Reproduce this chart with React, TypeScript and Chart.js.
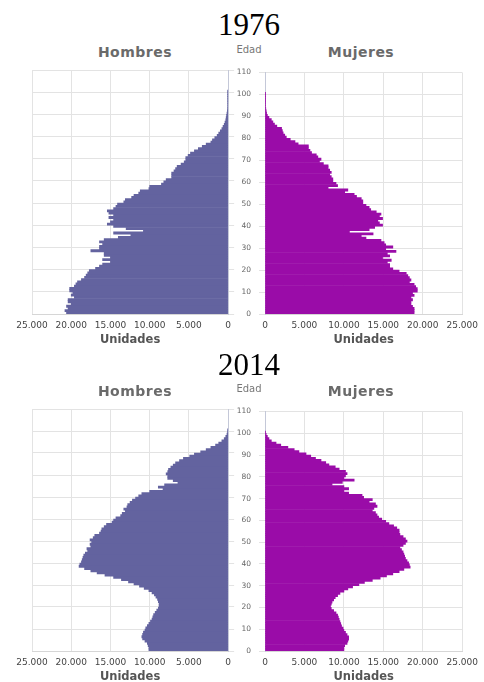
import React, { useEffect, useRef } from 'react';
import { Chart, registerables } from 'chart.js';

Chart.register(...registerables);

// Ages 0..100 (one bar per single year of age)
const AGES: number[] = Array.from({ length: 101 }, (_, i) => i);
const AGE_TICK_STEP = 10;
const AGE_MAX = 110;
const UNITS_MAX = 25000;
const UNITS_STEP = 5000;

const YEAR_A = '1976';
const YEAR_B = '2014';

// Population by single year of age (Unidades), ages 0..100
const HOMBRES_1976: number[] = [
  20600, 20800, 20400, 20600, 20000, 20400, 20400, 19600, 20000, 19800,
  20200, 20200, 19600, 19400, 19200, 18700, 18300, 18100, 17900, 17700,
  16900, 16400, 16000, 15000, 16000, 15000, 15800, 15800, 17500, 16400,
  16400, 16000, 16400, 15800, 14000, 12400, 14600, 10800, 13000, 14600,
  15400, 15000, 14600, 15200, 14600, 15200, 15400, 14600, 14300, 14100,
  13300, 13100, 12300, 12000, 11400, 11200, 10100, 10000, 8500, 8200,
  7900, 7200, 7200, 7200, 6900, 6700, 6500, 6000, 5600, 5400,
  5400, 5100, 4800, 4300, 3800, 3300, 2800, 2200, 2000, 1700,
  1400, 1200, 1000, 800, 650, 500, 400, 300, 250, 200,
  150, 100, 80, 50, 30, 20, 15, 10, 5, 3, 2,
];

const MUJERES_1976: number[] = [
  18900, 18900, 18900, 18700, 18500, 18500, 18700, 18500, 18900, 18700,
  19300, 19300, 19100, 18900, 18300, 18500, 18300, 18100, 17900, 17000,
  16200, 15800, 15800, 15500, 16000, 14900, 15800, 15500, 16600, 15300,
  16200, 15300, 15100, 14700, 12800, 12200, 13700, 10700, 13200, 13900,
  14900, 14500, 14300, 14900, 14500, 14700, 14100, 13400, 13200, 12800,
  12400, 12400, 12200, 11600, 11300, 10100, 10500, 8000, 9200, 9000,
  8600, 8600, 8400, 8200, 8400, 8200, 8000, 8000, 7400, 6900,
  7100, 6700, 6500, 5900, 5700, 5500, 5500, 4200, 3800, 3200,
  2700, 2500, 2300, 2200, 2100, 1500, 1200, 1000, 800, 500,
  300, 200, 150, 100, 70, 50, 30, 20, 10, 5, 3,
];

const HOMBRES_2014: number[] = [
  10100, 10100, 10200, 10300, 10600, 10900, 11000, 10900, 10800, 10600,
  10500, 10300, 10100, 9900, 9700, 9600, 9500, 9300, 9100, 8900,
  8800, 8800, 8900, 9000, 9200, 9400, 9700, 10100, 10700, 11300,
  12000, 12700, 13600, 14600, 15700, 16700, 17500, 18300, 19000, 18900,
  18700, 18600, 18500, 18400, 18200, 17900, 18000, 17500, 17600, 17400,
  17600, 17200, 17000, 16400, 16200, 16100, 15800, 15500, 14800, 14600,
  14300, 13700, 13500, 13100, 13300, 12900, 12800, 12500, 12200, 11800,
  11400, 11000, 10000, 8300, 8900, 8100, 6400, 7000, 7700, 7700,
  7900, 7700, 7600, 7300, 7000, 6700, 6200, 5700, 4900, 4300,
  3500, 2800, 2200, 1600, 1200, 800, 500, 300, 150, 80, 30,
];

const MUJERES_2014: number[] = [
  10000, 10000, 10100, 10400, 10500, 10600, 10600, 10400, 10200, 10000,
  9900, 9700, 9600, 9500, 9400, 9300, 9200, 9000, 8700, 8400,
  8300, 8400, 8500, 8700, 8900, 9200, 9500, 10000, 10500, 11100,
  11900, 12600, 13600, 14600, 15400, 16200, 17000, 17600, 18400, 18300,
  18200, 18000, 17800, 17700, 17600, 17500, 17300, 17100, 17500, 17800,
  18000, 17800, 17500, 17100, 17000, 17000, 16700, 16300, 15700, 15300,
  14800, 14400, 14200, 14000, 13600, 13800, 14200, 14000, 13200, 13600,
  12500, 12300, 10600, 10000, 10600, 10000, 8500, 9800, 11300, 10000,
  10200, 10400, 10200, 9400, 8900, 8100, 7700, 7100, 6400, 5800,
  5200, 4300, 3700, 2900, 2000, 1400, 800, 500, 300, 150, 80,
];

const COLOR_HOMBRES = '#63639f';
const COLOR_MUJERES = '#9a0ca8';
const GRID = '#e3e3e3';
const TEXT = '#555555';
const FONT = '"DejaVu Sans", Verdana, sans-serif';

function fmtUnits(v: number | string): string {
  const n = Math.round(Number(v));
  return String(n).replace(/\B(?=(\d{3})+(?!\d))/g, '.');
}

type PanelProps = {
  side: 'left' | 'right';
  values: number[];
  color: string;
  left: number;
  top: number;
  width: number;
  plotTop: number;
  plotHeight: number;
  padLeft: number;
  padRight: number;
};

function Panel(p: PanelProps) {
  const ref = useRef<HTMLCanvasElement>(null);
  const height = (p.plotTop - p.top) + p.plotHeight + 33;
  useEffect(() => {
    const isLeft = p.side === 'left';
    const chart = new Chart(ref.current as HTMLCanvasElement, {
      type: 'bar',
      data: {
        datasets: [
          {
            data: AGES.map((a, i) => ({ x: p.values[i], y: a + 0.5 })),
            backgroundColor: p.color,
            borderWidth: 0,
            barPercentage: 1,
            categoryPercentage: 1,
          },
        ],
      },
      options: {
        indexAxis: 'y',
        responsive: false,
        animation: false,
        events: [],
        layout: {
          padding: { left: p.padLeft, right: p.padRight, top: p.plotTop - p.top, bottom: 0 },
        },
        plugins: { legend: { display: false }, tooltip: { enabled: false }, title: { display: false } },
        scales: {
          x: {
            type: 'linear',
            min: 0,
            max: UNITS_MAX,
            reverse: isLeft,
            ticks: {
              stepSize: UNITS_STEP,
              callback: (v: any) => fmtUnits(v),
              font: { family: FONT, size: 9 },
              color: '#444444',
              padding: 6,
              maxRotation: 0,
              autoSkip: false,
            },
            grid: { color: GRID, drawTicks: false },
            border: { display: true, color: '#d6d6d6' },
            title: {
              display: true,
              text: 'Unidades',
              font: { family: FONT, size: 11.5, weight: 'bold' },
              color: TEXT,
              padding: 0,
            },
            afterFit: (s: any) => {
              s.height = 33;
            },
          } as any,
          y: {
            type: 'linear',
            min: 0,
            max: AGE_MAX,
            offset: false,
            position: isLeft ? 'right' : 'left',
            ticks: {
              stepSize: AGE_TICK_STEP,
              display: !isLeft,
              font: { family: FONT, size: 7.5 },
              color: '#666666',
              padding: 8,
            },
            grid: { color: GRID, tickLength: 6, drawTicks: true, offset: false },
            border: { display: true, color: '#c4c8d8' },
            afterFit: (s: any) => {
              s.width = isLeft ? 6 : 34;
            },
          } as any,
        },
      },
    } as any);
    return () => chart.destroy();
  }, []);
  return (
    <canvas
      ref={ref}
      width={p.width}
      height={height}
      style={{ position: 'absolute', left: p.left, top: p.top, width: p.width, height }}
    />
  );
}

function Label(props: { text: string; x: number; y: number; style: React.CSSProperties }) {
  return (
    <div
      style={{
        position: 'absolute',
        left: props.x,
        top: props.y,
        transform: 'translate(-50%, -50%)',
        whiteSpace: 'nowrap',
        lineHeight: 1,
        ...props.style,
      }}
    >
      {props.text}
    </div>
  );
}

const titleStyle: React.CSSProperties = {
  fontFamily: '"Liberation Serif", "Times New Roman", serif',
  fontSize: 31,
  color: '#000',
};
const sideStyle: React.CSSProperties = {
  fontFamily: FONT,
  fontSize: 14,
  fontWeight: 'bold',
  color: '#6a6a6a',
  letterSpacing: 0.5,
};
const edadStyle: React.CSSProperties = {
  fontFamily: FONT,
  fontSize: 10,
  color: '#777',
};

function Pyramid(props: {
  year: string;
  titleY: number;
  headY: number;
  plotTop: number;
  plotHeight: number;
  rightEdge: number;
  men: number[];
  women: number[];
}) {
  const top = props.plotTop - 10;
  const rightWidth = 484 - 231;
  return (
    <>
      <Label text={props.year} x={249} y={props.titleY} style={titleStyle} />
      <Label text="Hombres" x={135} y={props.headY} style={sideStyle} />
      <Label text="Edad" x={249} y={props.headY - 2} style={edadStyle} />
      <Label text="Mujeres" x={361} y={props.headY} style={sideStyle} />
      <Panel
        side="left"
        values={props.men}
        color={COLOR_HOMBRES}
        left={0}
        top={top}
        width={237}
        plotTop={props.plotTop}
        plotHeight={props.plotHeight}
        padLeft={32}
        padRight={0}
      />
      <Panel
        side="right"
        values={props.women}
        color={COLOR_MUJERES}
        left={231}
        top={top}
        width={rightWidth}
        plotTop={props.plotTop}
        plotHeight={props.plotHeight}
        padLeft={0}
        padRight={rightWidth - (props.rightEdge - 231)}
      />
    </>
  );
}

export default function App() {
  return (
    <div style={{ position: 'absolute', left: 0, top: 0, width: 484, height: 682, overflow: 'hidden', background: '#fff' }}>
      <Pyramid
        year={YEAR_A}
        titleY={24}
        headY={52}
        plotTop={70}
        plotHeight={244}
        rightEdge={463}
        men={HOMBRES_1976}
        women={MUJERES_1976}
      />
      <Pyramid
        year={YEAR_B}
        titleY={364}
        headY={391}
        plotTop={409}
        plotHeight={242}
        rightEdge={466}
        men={HOMBRES_2014}
        women={MUJERES_2014}
      />
    </div>
  );
}
